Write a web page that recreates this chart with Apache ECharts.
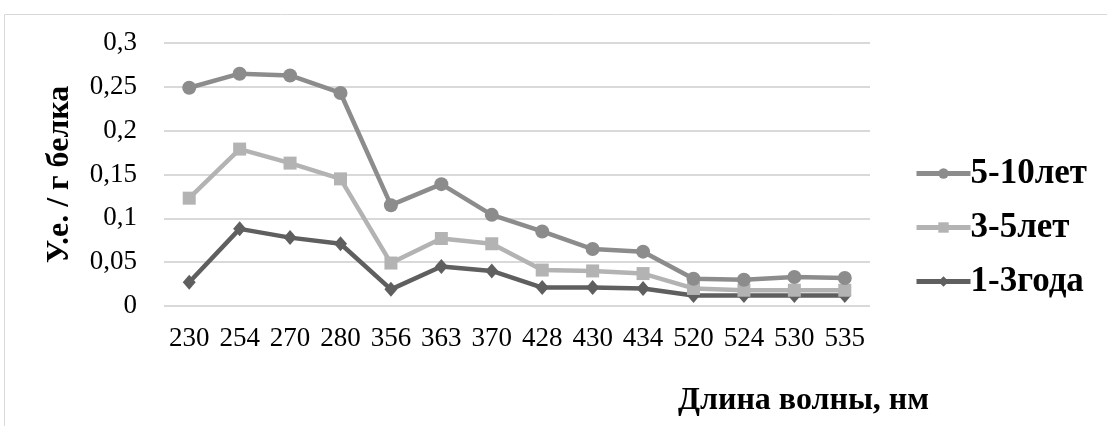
<!DOCTYPE html>
<html>
<head>
<meta charset="utf-8">
<script src="https://cdn.jsdelivr.net/npm/echarts@6/dist/echarts.min.js"></script>
<style>
  html, body { margin: 0; padding: 0; background: #fff; }
  #chart { width: 1107px; height: 426px; }
</style>
</head>
<body>
<div id="chart"></div>
<script>
// Wavelengths (nm) along the x axis
const wavelengths = ['230', '254', '270', '280', '356', '363', '370', '428', '430', '434', '520', '524', '530', '535'];

// Absorbance per gram of protein, by age group
const years5to10 = [0.249, 0.265, 0.263, 0.243, 0.115, 0.139, 0.104, 0.085, 0.065, 0.062, 0.031, 0.030, 0.033, 0.032];
const years3to5  = [0.123, 0.179, 0.163, 0.145, 0.049, 0.077, 0.071, 0.041, 0.040, 0.037, 0.020, 0.018, 0.018, 0.018];
const years1to3  = [0.027, 0.088, 0.078, 0.071, 0.019, 0.045, 0.040, 0.021, 0.021, 0.020, 0.012, 0.012, 0.012, 0.012];

const seriesNames = ['5-10лет', '3-5лет', '1-3года'];
const yTicks = [0, 0.05, 0.1, 0.15, 0.2, 0.25, 0.3];

const serif = '"Liberation Serif", "Times New Roman", serif';

function lineSeries(name, data, color, symbol, size) {
  return {
    name: name,
    type: 'line',
    data: data,
    symbol: symbol,
    symbolSize: size,
    showSymbol: true,
    lineStyle: { color: color, width: 4.5 },
    itemStyle: { color: color },
    emphasis: { disabled: true },
    animation: false
  };
}

const chart = echarts.init(document.getElementById('chart'));
chart.setOption({
  backgroundColor: '#fff',
  animation: false,
  graphic: [
    {
      type: 'rect',
      shape: { x: 4.5, y: 14.5, width: 1120, height: 430 },
      style: { fill: 'none', stroke: '#d9d9d9', lineWidth: 1 },
      silent: true
    },
    {
      type: 'text',
      left: 678,
      top: 385,
      style: {
        text: 'Длина волны, нм',
        font: 'bold 32px ' + serif,
        fill: '#000'
      }
    }
  ],
  grid: { left: 164, right: 237, top: 43, bottom: 120 },
  xAxis: {
    type: 'category',
    data: wavelengths,
    boundaryGap: true,
    axisLine: { show: false },
    axisTick: { show: false },
    axisLabel: { color: '#000', fontFamily: serif, fontSize: 27, margin: 19, interval: 0, hideOverlap: false }
  },
  yAxis: {
    type: 'value',
    min: yTicks[0],
    max: yTicks[yTicks.length - 1],
    interval: 0.05,
    name: 'У.е. / г белка',
    nameLocation: 'middle',
    nameRotate: 90,
    nameGap: 88,
    nameTextStyle: { color: '#000', fontFamily: serif, fontSize: 32, fontWeight: 'bold' },
    axisLine: { show: false },
    axisTick: { show: false },
    splitLine: { lineStyle: { color: '#d9d9d9', width: 2 } },
    axisLabel: {
      color: '#000',
      fontFamily: serif,
      fontSize: 27,
      margin: 27,
      formatter: v => String(+v.toFixed(2)).replace('.', ',')
    }
  },
  legend: {
    data: seriesNames,
    orient: 'vertical',
    left: 909,
    top: 151,
    itemWidth: 54,
    itemHeight: 13,
    itemGap: 19,
    lineStyle: { width: 5 },
    textStyle: { color: '#000', fontFamily: serif, fontSize: 35, fontWeight: 'bold', padding: [0, 0, 0, -5] }
  },
  series: [
    lineSeries(seriesNames[2], years1to3, '#5f5f5f', 'diamond', [13, 15]),
    lineSeries(seriesNames[1], years3to5, '#b3b3b3', 'rect', 13),
    lineSeries(seriesNames[0], years5to10, '#8c8c8c', 'circle', 14)
  ]
});
</script>
</body>
</html>
